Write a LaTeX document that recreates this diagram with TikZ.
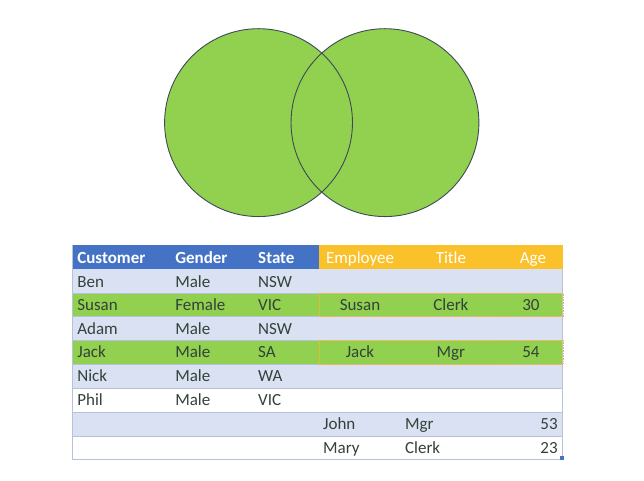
\documentclass[tikz,border=0pt]{standalone}
\usepackage{fontspec}
\setmainfont{Carlito}
\definecolor{hdrblue}{HTML}{4472C4}
\definecolor{hdryellow}{HTML}{FBC12A}
\definecolor{rowblue}{HTML}{D9E1F2}
\definecolor{rowgreen}{HTML}{92D050}
\definecolor{gridline}{HTML}{B4C2DA}
\definecolor{celltext}{HTML}{33423A}
\definecolor{ringline}{HTML}{3E4A55}

\begin{document}
\begin{tikzpicture}[x=1pt,y=-1pt,
  cell/.style={inner sep=0pt,font=\fontsize{17}{20}\selectfont,text=celltext},
  hdrcell/.style={cell,font=\fontsize{17}{20}\selectfont\bfseries,text=white},
  empcell/.style={cell,text=white}]
\filldraw[color=white] (0.000000, 0.000000) rectangle (644.000000, 480.000000);
% Drawing circles
\fill[rowgreen] (258.500000, 122.500000) circle[radius=94.000000pt];
\fill[rowgreen] (385.000000, 122.500000) circle[radius=94.000000pt];
\draw[ringline, line width=0.9pt] (258.500000, 122.500000) circle[radius=94.000000pt];
\draw[ringline, line width=0.9pt] (385.000000, 122.500000) circle[radius=94.000000pt];
% Done with circles; drawing row fills
\fill[hdrblue] (72.000000, 245.000000) rectangle (319.000000, 269.000000);
\fill[hdryellow] (319.000000, 245.000000) rectangle (563.000000, 269.000000);
\fill[rowblue] (72.000000, 269.000000) rectangle (563.000000, 293.000000);
\fill[rowgreen] (72.000000, 293.000000) rectangle (563.000000, 316.500000);
\fill[rowblue] (72.000000, 316.500000) rectangle (563.000000, 340.000000);
\fill[rowgreen] (72.000000, 340.000000) rectangle (563.000000, 364.000000);
\fill[rowblue] (72.000000, 364.000000) rectangle (563.000000, 388.000000);
\fill[rowblue] (72.000000, 412.000000) rectangle (563.000000, 436.000000);
% Done with fills; drawing grid lines
\begin{scope}[gridline, line width=0.8pt]
\draw (72.000000, 293.000000) -- (563.000000, 293.000000);
\draw (72.000000, 316.500000) -- (563.000000, 316.500000);
\draw (72.000000, 340.000000) -- (563.000000, 340.000000);
\draw (72.000000, 364.000000) -- (563.000000, 364.000000);
\draw (72.000000, 388.000000) -- (563.000000, 388.000000);
\draw (72.000000, 412.000000) -- (563.000000, 412.000000);
\draw (72.000000, 436.000000) -- (563.000000, 436.000000);
\draw (72.000000, 245.000000) -- (72.000000, 459.000000) -- (563.000000, 459.000000) -- (563.000000, 269.000000);
\end{scope}
\draw[hdryellow!85!orange, densely dotted, line width=0.6pt] (319.000000, 293.000000) rectangle (563.000000, 316.500000);
\draw[hdryellow!85!orange, densely dotted, line width=0.6pt] (319.000000, 340.000000) rectangle (563.000000, 364.000000);
\fill[hdrblue] (560.000000, 456.000000) rectangle (564.000000, 460.000000);
% Done with grid; drawing header
\node[hdrcell, anchor=base west] (hcust) at (77.000000, 263.000000) {Customer};
\node[hdrcell, anchor=base west] (hgend) at (175.000000, 263.000000) {Gender};
\node[hdrcell, anchor=base west] (hstate) at (258.000000, 263.000000) {State};
\node[empcell, anchor=base] (hemp) at (360.000000, 263.000000) {Employee};
\node[empcell, anchor=base] (htitle) at (451.000000, 263.000000) {Title};
\node[empcell, anchor=base] (hage) at (533.000000, 263.000000) {Age};
% Line 1: Ben
\node[cell, anchor=base west] (c1a) at (77.000000, 287.000000) {Ben};
\node[cell, anchor=base west] (c1b) at (175.000000, 287.000000) {Male};
\node[cell, anchor=base west] (c1c) at (258.000000, 287.000000) {NSW};
% Line 2: Susan
\node[cell, anchor=base west] (c2a) at (77.000000, 310.500000) {Susan};
\node[cell, anchor=base west] (c2b) at (175.000000, 310.500000) {Female};
\node[cell, anchor=base west] (c2c) at (258.000000, 310.500000) {VIC};
\node[cell, anchor=base] (e2a) at (360.000000, 310.500000) {Susan};
\node[cell, anchor=base] (e2b) at (451.000000, 310.500000) {Clerk};
\node[cell, anchor=base] (e2c) at (531.000000, 310.500000) {30};
% Line 3: Adam
\node[cell, anchor=base west] (c3a) at (77.000000, 334.000000) {Adam};
\node[cell, anchor=base west] (c3b) at (175.000000, 334.000000) {Male};
\node[cell, anchor=base west] (c3c) at (258.000000, 334.000000) {NSW};
% Line 4: Jack
\node[cell, anchor=base west] (c4a) at (77.000000, 358.000000) {Jack};
\node[cell, anchor=base west] (c4b) at (175.000000, 358.000000) {Male};
\node[cell, anchor=base west] (c4c) at (258.000000, 358.000000) {SA};
\node[cell, anchor=base] (e4a) at (360.000000, 358.000000) {Jack};
\node[cell, anchor=base] (e4b) at (451.000000, 358.000000) {Mgr};
\node[cell, anchor=base] (e4c) at (531.000000, 358.000000) {54};
% Line 5: Nick
\node[cell, anchor=base west] (c5a) at (77.000000, 382.000000) {Nick};
\node[cell, anchor=base west] (c5b) at (175.000000, 382.000000) {Male};
\node[cell, anchor=base west] (c5c) at (258.000000, 382.000000) {WA};
% Line 6: Phil
\node[cell, anchor=base west] (c6a) at (77.000000, 406.000000) {Phil};
\node[cell, anchor=base west] (c6b) at (175.000000, 406.000000) {Male};
\node[cell, anchor=base west] (c6c) at (258.000000, 406.000000) {VIC};
% Line 7: John
\node[cell, anchor=base west] (e7a) at (323.000000, 430.000000) {John};
\node[cell, anchor=base west] (e7b) at (405.000000, 430.000000) {Mgr};
\node[cell, anchor=base east] (e7c) at (558.000000, 430.000000) {53};
% Line 8: Mary
\node[cell, anchor=base west] (e8a) at (323.000000, 453.500000) {Mary};
\node[cell, anchor=base west] (e8b) at (405.000000, 453.500000) {Clerk};
\node[cell, anchor=base east] (e8c) at (558.000000, 453.500000) {23};
% Done with table
\end{tikzpicture}
\end{document}
